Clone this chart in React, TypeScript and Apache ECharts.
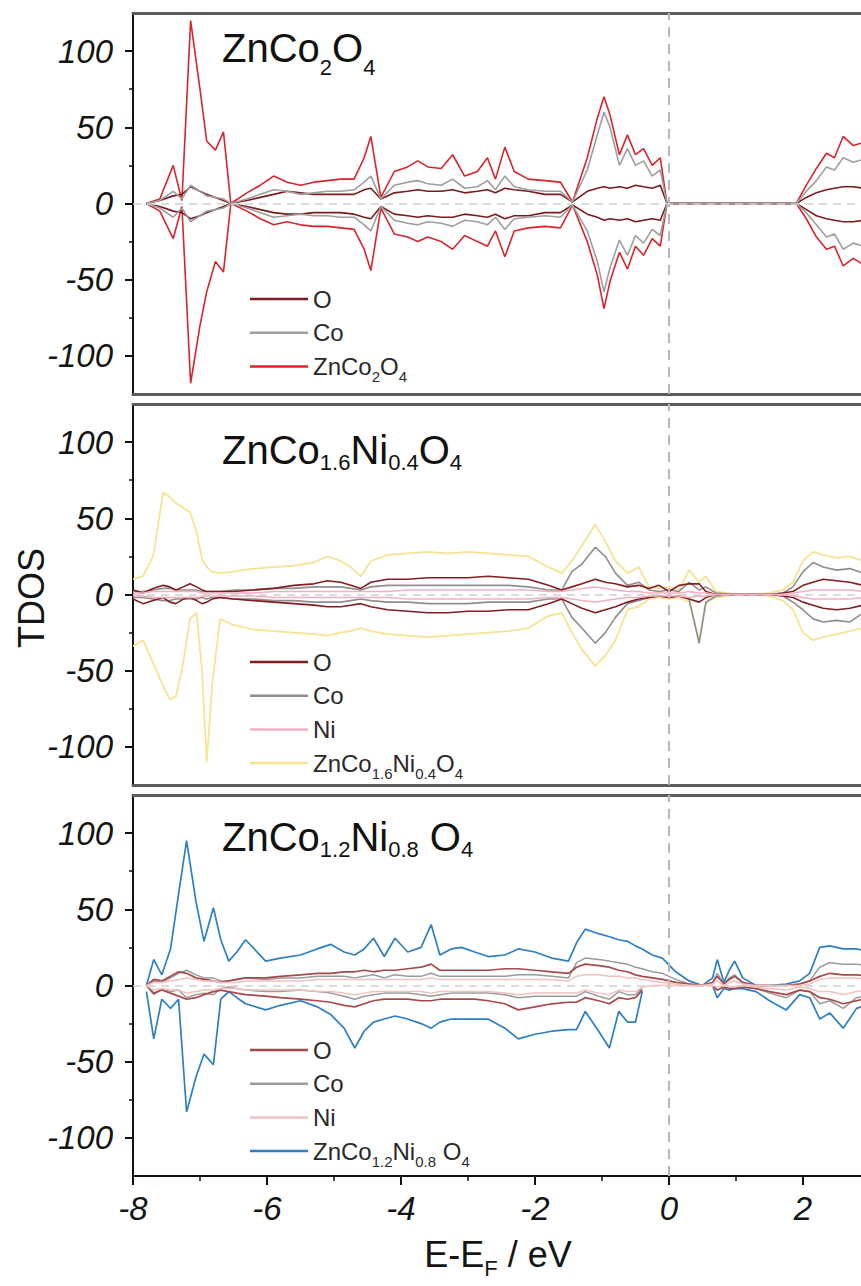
import React, { useEffect, useRef } from "react";
import * as echarts from "echarts";

// ---------------- data ----------------
// Panel 1: ZnCo2O4
const E1 = [-7.8, -7.6, -7.4, -7.27, -7.14, -7.0, -6.9, -6.77, -6.65, -6.54,
  -6.3, -6.1, -5.9, -5.7, -5.5, -5.3, -5.1, -4.9, -4.7, -4.55,
  -4.45, -4.3, -4.1, -3.9, -3.75, -3.6, -3.4, -3.23, -3.05, -2.86,
  -2.71, -2.59, -2.45, -2.31, -2.1, -1.85, -1.62, -1.44, -1.22, -1.07,
  -0.97, -0.88, -0.74, -0.62, -0.5, -0.38, -0.25, -0.13, -0.03, 0.5,
  1.0, 1.5, 1.9, 2.05, 2.2, 2.35, 2.47, 2.6, 2.75, 2.9, 3.0];
const TOT1_UP = [0, 3, 25, 2, 120, 75, 41, 35, 47, 0,
  7, 12, 18, 14, 12, 14, 15, 16, 16, 30,
  44, 4, 21, 24, 28, 24, 23, 32, 18, 21,
  30, 16, 37, 21, 16, 15, 14, 1, 30, 56,
  70, 58, 32, 45, 32, 36, 25, 30, 0, 0,
  0, 0, 0, 12, 23, 33, 30, 44, 38, 40, 42];
const TOT1_DN = [0, -5, -23, -2, -118, -80, -58, -38, -45, 0,
  -5, -10, -14, -12, -14, -15, -15, -16, -17, -30,
  -44, -3, -20, -22, -25, -22, -25, -30, -21, -25,
  -28, -18, -35, -18, -16, -15, -16, -1, -25, -47,
  -69, -51, -32, -43, -28, -34, -23, -28, 0, 0,
  0, 0, 0, -10, -22, -30, -28, -41, -36, -40, -40];
const CO1_UP = [0, 2, 8, 3, 12, 8, 5, 4, 3, 0,
  3, 6, 9, 8, 6, 7, 8, 8, 9, 14,
  18, 3, 12, 14, 15, 13, 12, 16, 10, 11,
  15, 9, 18, 11, 9, 8, 8, 1, 22, 45,
  60, 50, 25, 36, 25, 28, 18, 22, 0, 0,
  0, 0, 0, 8, 15, 24, 22, 30, 27, 29, 30];
const CO1_DN = [0, -3, -9, -3, -12, -8, -5, -4, -3, 0,
  -3, -6, -9, -8, -7, -8, -8, -9, -9, -14,
  -18, -2, -11, -13, -14, -12, -13, -15, -11, -12,
  -14, -9, -17, -10, -9, -8, -9, -1, -18, -38,
  -58, -42, -24, -34, -21, -26, -17, -21, 0, 0,
  0, 0, 0, -6, -14, -22, -20, -30, -26, -28, -29];
const O1_UP = [0, 2, 5, 6, 11, 8, 6, 4, 2, 0,
  2, 4, 6, 8, 7, 6, 6, 6, 6, 9,
  10, 3, 7, 8, 9, 8, 8, 9, 7, 8,
  9, 7, 10, 9, 8, 6, 6, 1, 8, 10,
  11, 10, 11, 10, 12, 11, 10, 12, 0, 0,
  0, 0, 0, 4, 7, 9, 10, 11, 11, 10, 10];
const O1_DN = [0, -2, -5, -6, -10, -8, -6, -4, -2, 0,
  -2, -4, -6, -7, -7, -6, -6, -6, -7, -9,
  -10, -2, -7, -8, -9, -8, -9, -9, -7, -8,
  -9, -7, -10, -8, -8, -6, -6, -1, -7, -9,
  -11, -10, -11, -10, -12, -11, -10, -11, 0, 0,
  0, 0, 0, -4, -8, -10, -11, -12, -12, -11, -11];

// Panel 2: ZnCo1.6Ni0.4O4
const E2 = [-8.0, -7.85, -7.7, -7.55, -7.45, -7.36, -7.25, -7.15, -7.05, -6.97,
  -6.9, -6.82, -6.7, -6.5, -6.2, -5.9, -5.6, -5.3, -5.1, -4.9,
  -4.75, -4.6, -4.45, -4.2, -3.9, -3.6, -3.3, -3.0, -2.7, -2.4,
  -2.1, -1.8, -1.6, -1.45, -1.3, -1.1, -0.95, -0.8, -0.62, -0.45,
  -0.3, -0.15, 0.0, 0.15, 0.3, 0.45, 0.55, 0.7, 1.0, 1.3,
  1.5, 1.7, 1.85, 2.0, 2.15, 2.3, 2.5, 2.7, 2.9, 3.0];
const TOT2_UP = [10, 12, 25, 67, 64, 60, 57, 54, 41, 23,
  18, 15, 14, 15, 17, 18, 19, 21, 25, 22,
  18, 12, 22, 26, 27, 28, 27, 28, 27, 26,
  25, 18, 14, 22, 32, 46, 35, 22, 14, 18,
  5, 4, 5, 3, 16, 8, 12, 2, 0, 0,
  1, 3, 8, 22, 28, 26, 24, 25, 22, 20];
const TOT2_DN = [-34, -30, -45, -60, -69, -67, -45, -16, -12, -50,
  -110, -60, -16, -20, -23, -24, -25, -26, -27, -25,
  -24, -22, -24, -26, -27, -28, -27, -26, -25, -24,
  -22, -14, -12, -25, -36, -47, -40, -30, -10, -8,
  -3, -2, -3, -2, -5, -30, -6, -2, 0, 0,
  -1, -4, -10, -25, -30, -28, -26, -24, -22, -20];
const CO2_UP = [2, 2, 3, 4, 4, 3, 3, 3, 3, 2,
  2, 2, 2, 3, 3, 4, 4, 5, 5, 5,
  4, 3, 5, 6, 6, 6, 6, 6, 6, 6,
  5, 3, 3, 15, 20, 31, 25, 14, 6, 8,
  3, 2, 3, 2, 8, 3, 5, 1, 0, 0,
  0, 1, 5, 15, 21, 18, 16, 17, 14, 12];
const CO2_DN = [-2, -2, -3, -4, -4, -3, -3, -3, -3, -2,
  -3, -2, -2, -3, -3, -4, -4, -5, -5, -5,
  -4, -3, -4, -5, -5, -6, -6, -6, -5, -5,
  -5, -3, -3, -15, -22, -32, -25, -15, -6, -4,
  -2, -1, -2, -1, -3, -32, -5, -1, 0, 0,
  0, -1, -5, -10, -16, -18, -17, -18, -12, -10];
const O2_UP = [3, 1, 4, 6, 5, 3, 5, 7, 5, 3,
  2, 2, 2, 2, 3, 4, 6, 7, 9, 8,
  6, 4, 8, 10, 10, 11, 11, 11, 12, 11,
  10, 6, 3, 5, 7, 10, 8, 7, 5, 6,
  4, 6, 2, 6, 7, 7, 2, 0, 0, 0,
  0, 1, 2, 6, 8, 10, 9, 8, 6, 5];
const O2_DN = [-3, -6, -4, -2, -5, -6, -3, -2, -4, -6,
  -5, -3, -2, -3, -4, -5, -6, -7, -8, -8,
  -7, -6, -8, -10, -11, -12, -12, -11, -11, -10,
  -10, -6, -3, -6, -9, -12, -10, -8, -5, -3,
  -2, -1, -2, -1, -3, -5, -2, 0, 0, 0,
  0, -1, -2, -5, -7, -9, -10, -9, -7, -5];
const NI2_UP = [1, 1, 2, 2, 2, 2, 2, 2, 2, 1,
  1, 1, 1, 1, 1, 2, 2, 2, 2, 2,
  2, 2, 2, 2, 3, 3, 3, 3, 3, 3,
  3, 2, 2, 3, 4, 5, 4, 3, 2, 2,
  1, 1, 1, 1, 2, 1, 1, 0, 0, 0,
  0, 0, 1, 2, 3, 3, 3, 3, 2, 2];
const NI2_DN = [-1, -1, -2, -2, -2, -2, -2, -2, -2, -1,
  -1, -1, -1, -1, -1, -2, -2, -2, -2, -2,
  -2, -2, -2, -2, -3, -3, -3, -3, -3, -3,
  -3, -2, -2, -3, -4, -5, -4, -3, -2, -2,
  -1, -1, -1, -1, -2, -1, -1, 0, 0, 0,
  0, 0, -1, -2, -3, -3, -3, -3, -2, -2];

// Panel 3: ZnCo1.2Ni0.8O4
const E3 = [-7.8, -7.69, -7.57, -7.44, -7.32, -7.2, -7.06, -6.94, -6.8, -6.69,
  -6.57, -6.45, -6.32, -6.02, -5.8, -5.5, -5.25, -5.05, -4.85, -4.69,
  -4.55, -4.41, -4.25, -4.09, -3.9, -3.7, -3.55, -3.42, -3.25, -3.1,
  -2.9, -2.7, -2.45, -2.25, -2.0, -1.75, -1.5, -1.38, -1.25, -1.05,
  -0.89, -0.75, -0.62, -0.5, -0.4, -0.25, -0.1, 0.1, 0.3, 0.5,
  0.65, 0.72, 0.82, 0.9, 0.98, 1.1, 1.3, 1.5, 1.75, 1.95,
  2.1, 2.25, 2.4, 2.6, 2.8, 3.0];
const TOT3_UP = [0, 17, 7, 24, 60, 95, 55, 29, 51, 30,
  16, 22, 30, 16, 18, 20, 24, 27, 22, 20,
  24, 31, 19, 31, 22, 25, 40, 20, 24, 25,
  22, 19, 20, 24, 22, 18, 16, 28, 37, 34,
  32, 30, 29, 26, 24, 20, 18, 9, 3, 0,
  5, 17, 2, 10, 16, 5, 0, 0, 1, 3,
  8, 25, 26, 24, 24, 22];
const TOT3_DN = [-4, -35, -9, -15, -9, -83, -60, -45, -52, -9,
  -4, -8, -12, -16, -13, -10, -14, -19, -28, -41,
  -30, -24, -22, -20, -22, -25, -28, -24, -22, -22,
  -22, -22, -28, -35, -32, -30, -29, -29, -17, -30,
  -41, -17, -24, -24, -4, null, null, null, null, null,
  0, -8, -2, -3, -2, -2, -4, -10, -16, -6,
  -8, -22, -18, -28, -15, -12];
const CO3_UP = [0, 3, 2, 5, 8, 10, 7, 5, 5, 3,
  3, 4, 5, 4, 5, 5, 6, 6, 6, 5,
  6, 7, 5, 7, 6, 6, 8, 6, 6, 6,
  6, 6, 6, 7, 7, 6, 5, 15, 18, 17,
  16, 15, 14, 12, 11, 9, 8, 4, 1, 0,
  2, 8, 1, 5, 7, 2, 0, 0, 0, 1,
  3, 12, 15, 14, 14, 13];
const CO3_DN = [0, -6, -2, -4, -3, -8, -6, -5, -6, -2,
  -1, -2, -3, -4, -4, -3, -4, -5, -7, -9,
  -7, -6, -5, -5, -5, -6, -7, -6, -5, -5,
  -5, -5, -6, -8, -7, -7, -7, -7, -4, -7,
  -9, -4, -6, -6, -2, null, null, null, null, null,
  0, -3, -1, -2, -1, -1, -2, -5, -8, -3,
  -4, -12, -10, -15, -8, -6];
const O3_UP = [0, 4, 3, 6, 9, 8, 5, 4, 3, 2,
  3, 4, 5, 5, 6, 7, 8, 8, 9, 9,
  10, 9, 10, 10, 11, 12, 14, 10, 10, 10,
  10, 10, 11, 11, 10, 9, 8, 12, 14, 13,
  12, 10, 9, 7, 6, 5, 4, 2, 1, 0,
  2, 6, 1, 4, 6, 2, 0, 0, 0, 1,
  3, 6, 8, 7, 7, 6];
const O3_DN = [0, -5, -3, -5, -7, -9, -8, -6, -4, -3,
  -4, -5, -6, -7, -8, -9, -10, -11, -13, -14,
  -12, -10, -9, -9, -9, -10, -10, -9, -9, -9,
  -9, -10, -12, -16, -14, -12, -11, -11, -8, -10,
  -12, -8, -9, -8, -3, null, null, null, null, null,
  0, -3, -1, -2, -2, -1, -2, -4, -6, -3,
  -4, -8, -9, -12, -10, -8];
const NI3_UP = [0, 2, 2, 3, 4, 5, 4, 3, 3, 2,
  2, 2, 3, 3, 3, 3, 4, 4, 4, 4,
  4, 4, 4, 4, 4, 4, 5, 4, 4, 4,
  4, 4, 4, 4, 4, 4, 3, 6, 7, 7,
  6, 6, 5, 5, 4, 3, 2, 1, 0, 0,
  1, 3, 0, 2, 3, 1, 0, 0, 0, 0,
  1, 4, 5, 5, 5, 4];
const NI3_DN = [0, -3, -2, -3, -3, -5, -4, -3, -3, -2,
  -2, -2, -3, -3, -3, -3, -4, -4, -5, -6,
  -5, -4, -4, -4, -4, -4, -5, -4, -4, -4,
  -4, -4, -5, -6, -5, -5, -5, -5, -3, -5,
  -6, -3, -4, -4, -1, 0, 0, 0, 0, 0,
  0, -1, 0, -1, -1, 0, -1, -2, -3, -1,
  -2, -4, -4, -6, -4, -3];

const X_MIN = -8;
const X_MAX = 4;
const X_STEP = 2;
const X_LABELS = [-8, -6, -4, -2, 0, 2];
const Y_MIN = -125;
const Y_MAX = 125;
const Y_MAJOR = [-100, -50, 0, 50, 100];
const Y_MINOR = [-75, -25, 25, 75];

const TITLES = [
  ["ZnCo", "2", "O", "4"],
  ["ZnCo", "1.6", "Ni", "0.4", "O", "4"],
  ["ZnCo", "1.2", "Ni", "0.8", " O", "4"],
];

// ---------------- helpers ----------------
const FONT = "'Liberation Sans', Arial, Helvetica, sans-serif";

function toPairs(xs: number[], ys: (number | null)[]) {
  return xs.map((x, i) => [x, ys[i] == null ? "-" : ys[i]]);
}
function richFormula(parts: string[]) {
  return parts.map((p, i) => (i % 2 === 0 ? `{n|${p}}` : `{s|${p}}`)).join("");
}

type Curve = { id: string; label: string; color: string; width: number; up: (number | null)[]; dn: (number | null)[] };

const PANELS: { energy: number[]; curves: Curve[]; legend: string[] }[] = [
  {
    energy: E1,
    curves: [
      { id: "T1", label: richFormula(TITLES[0]), color: "#d8242c", width: 1.6, up: TOT1_UP, dn: TOT1_DN },
      { id: "O1", label: "{n|O}", color: "#7a1c1e", width: 1.6, up: O1_UP, dn: O1_DN },
      { id: "C1", label: "{n|Co}", color: "#9e9e9e", width: 1.6, up: CO1_UP, dn: CO1_DN },
    ],
    legend: ["O1", "C1", "T1"],
  },
  {
    energy: E2,
    curves: [
      { id: "T2", label: richFormula(TITLES[1]), color: "#f6e394", width: 1.8, up: TOT2_UP, dn: TOT2_DN },
      { id: "C2", label: "{n|Co}", color: "#8e8e8e", width: 1.6, up: CO2_UP, dn: CO2_DN },
      { id: "O2", label: "{n|O}", color: "#821e22", width: 1.6, up: O2_UP, dn: O2_DN },
      { id: "N2", label: "{n|Ni}", color: "#f0b0c0", width: 1.5, up: NI2_UP, dn: NI2_DN },
    ],
    legend: ["O2", "C2", "N2", "T2"],
  },
  {
    energy: E3,
    curves: [
      { id: "T3", label: richFormula(TITLES[2]), color: "#2d7fc3", width: 1.7, up: TOT3_UP, dn: TOT3_DN },
      { id: "C3", label: "{n|Co}", color: "#9a9a9a", width: 1.5, up: CO3_UP, dn: CO3_DN },
      { id: "O3", label: "{n|O}", color: "#a5494b", width: 1.7, up: O3_UP, dn: O3_DN },
      { id: "N3", label: "{n|Ni}", color: "#f2c0c0", width: 1.5, up: NI3_UP, dn: NI3_DN },
    ],
    legend: ["O3", "C3", "N3", "T3"],
  },
];

// ---------------- layout ----------------
const W = 861;
const H = 1286;
const GRID_LEFT = 133;
const GRID_WIDTH = 804;
const GRID_H = 381;
const GRID_TOPS = [13, 404, 795];
const TITLE_CENTERS = [48, 450, 837];
const TITLE_SUB_OFFSET = [19, 12, 12];
const LEGEND_FIRST = [299, 662, 1050];
const LEGEND_STEP = 33.7;
const LEG_LINE_H = 35;

function buildOption() {
  const labelMap: Record<string, string> = {};
  PANELS.forEach((p) => p.curves.forEach((c) => (labelMap[c.id] = c.label)));

  const option: any = {
    animation: false,
    backgroundColor: "#ffffff",
    grid: GRID_TOPS.map((t) => ({
      left: GRID_LEFT, top: t, width: GRID_WIDTH, height: GRID_H,
      containLabel: false, outerBoundsMode: "none",
    })),
    xAxis: [],
    yAxis: [],
    series: [],
    legend: [],
    title: [],
    graphic: [
      {
        type: "text", x: 31, y: 598, rotation: Math.PI / 2,
        style: { text: "TDOS", fontSize: 36, fontFamily: FONT, fill: "#151515", align: "center", verticalAlign: "middle" },
      },
      {
        type: "text", x: 498, y: 1254,
        style: {
          text: "{n|E-E}{s|F}{n| / eV}", align: "center", verticalAlign: "middle", fill: "#151515",
          fontFamily: FONT, fontSize: 36,
          rich: {
            n: { fontSize: 36, fontFamily: FONT, fill: "#151515", lineHeight: 44 },
            s: { fontSize: 22, fontFamily: FONT, fill: "#151515", padding: [28, 0, 0, 0] },
          },
        },
      },
    ],
  };

  PANELS.forEach((p, i) => {
    const isLast = i === PANELS.length - 1;
    option.xAxis.push({
      type: "value", gridIndex: i, min: X_MIN, max: X_MAX, interval: X_STEP, position: "bottom",
      axisLine: { show: true, onZero: false, lineStyle: { color: isLast ? "#111" : "#5c5c5c", width: isLast ? 2 : 3 } },
      axisTick: { show: isLast, length: 9, lineStyle: { color: "#111", width: 2 } },
      minorTick: { show: isLast, splitNumber: 2, length: 5, lineStyle: { color: "#111", width: 1.5 } },
      axisLabel: { show: isLast, customValues: X_LABELS, fontSize: 33, fontStyle: "italic", fontFamily: FONT, color: "#151515", margin: 16 },
      splitLine: { show: false },
      minorSplitLine: { show: false },
    });
    option.xAxis.push({
      type: "value", gridIndex: i, min: X_MIN, max: X_MAX, position: "top",
      axisLine: { show: true, onZero: false, lineStyle: { color: "#5c5c5c", width: 3 } },
      axisTick: { show: false }, axisLabel: { show: false }, splitLine: { show: false },
    });
    option.yAxis.push({
      type: "value", gridIndex: i, min: Y_MIN, max: Y_MAX, position: "left",
      axisLine: { show: true, onZero: false, lineStyle: { color: "#111", width: 2 } },
      axisTick: { show: true, customValues: Y_MAJOR, length: 8, lineStyle: { color: "#111", width: 2 } },
      axisLabel: { show: true, customValues: Y_MAJOR, fontSize: 33, fontStyle: "italic", fontFamily: FONT, color: "#151515", margin: 20 },
      splitLine: { show: false },
    });
    option.yAxis.push({
      type: "value", gridIndex: i, min: Y_MIN, max: Y_MAX, position: "left",
      axisLine: { show: false, onZero: false },
      axisTick: { show: true, customValues: Y_MINOR, length: 4, lineStyle: { color: "#111", width: 1.5 } },
      axisLabel: { show: false },
      splitLine: { show: false },
    });

    p.curves.forEach((c, ci) => {
      (["up", "dn"] as const).forEach((spin, si) => {
        const s: any = {
          type: "line", name: c.id,
          xAxisIndex: 2 * i, yAxisIndex: 2 * i,
          data: toPairs(p.energy, c[spin]),
          symbol: "none", showSymbol: false, silent: true,
          connectNulls: false,
          lineStyle: { color: c.color, width: c.width },
          itemStyle: { color: c.color },
          z: 2 + ci,
        };
        if (ci === 0 && si === 0) {
          s.markLine = {
            silent: true, symbol: ["none", "none"], label: { show: false }, animation: false,
            data: [
              { xAxis: 0, lineStyle: { type: [10, 7], color: "#b8b8b8", width: 2 } },
              { yAxis: 0, lineStyle: { type: [8, 6], color: "#cfcfcf", width: 1.5 } },
            ],
          };
        }
        option.series.push(s);
      });
    });

    option.legend.push({
      orient: "vertical", left: 250, top: LEGEND_FIRST[i] - LEG_LINE_H / 2,
      padding: 0, itemWidth: 58, itemHeight: 2.5, itemGap: LEGEND_STEP - LEG_LINE_H,
      icon: "rect",
      selectedMode: false, data: p.legend, formatter: (n: string) => labelMap[n],
      textStyle: {
        fontFamily: FONT, fontSize: 24, color: "#2a2a2a", lineHeight: LEG_LINE_H,
        rich: {
          n: { fontSize: 24, fontFamily: FONT, color: "#2a2a2a", lineHeight: LEG_LINE_H },
          s: { fontSize: 15, fontFamily: FONT, color: "#2a2a2a", padding: [20, 0, 0, 0] },
        },
      },
    });

    const off = TITLE_SUB_OFFSET[i];
    const lineH = Math.max(48, 22 + 2 * off);
    option.title.push({
      text: richFormula(TITLES[i]), left: 222, top: TITLE_CENTERS[i] - lineH / 2, padding: 0,
      textStyle: {
        fontFamily: FONT, fontSize: 40, color: "#111", fontWeight: "normal",
        rich: {
          n: { fontSize: 40, fontFamily: FONT, color: "#111", lineHeight: 48 },
          s: { fontSize: 22, fontFamily: FONT, color: "#111", padding: [2 * off, 0, 0, 0] },
        },
      },
    });
  });
  return option;
}

export default function App() {
  const ref = useRef<HTMLDivElement>(null);
  useEffect(() => {
    document.body.style.margin = "0";
    if (!ref.current) return;
    const chart = echarts.init(ref.current, undefined, { renderer: "svg" });
    chart.setOption(buildOption());
    return () => chart.dispose();
  }, []);
  return <div ref={ref} style={{ width: W, height: H, overflow: "hidden" }} />;
}
